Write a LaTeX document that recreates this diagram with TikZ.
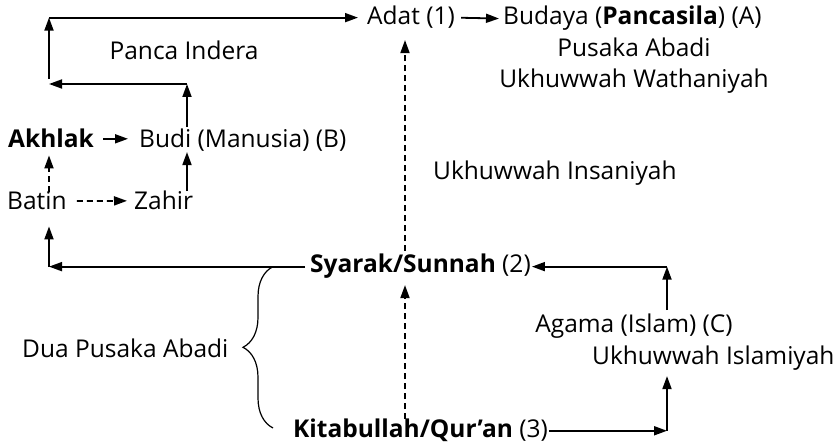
\documentclass[tikz,border=0pt]{standalone}
\usepackage{fontspec}
\setmainfont{Open Sans}
\usepackage{tikz}
\usetikzlibrary{calc,arrows.meta,decorations.pathreplacing}

\tikzset{
  txt/.style={inner sep=0pt, anchor=base west, font=\fontsize{24.5}{29}\selectfont},
  ctxt/.style={txt, anchor=base},
  arr/.style={line width=1.8pt, -{Triangle[length=13pt,width=9pt]}},
  dsh/.style={arr, dash pattern=on 6pt off 4pt},
}

\begin{document}
\begin{tikzpicture}[x=1pt,y=-1pt]
\useasboundingbox (0,0) rectangle (838,443);
% texts
\node [txt] (adat) at (367,25) {Adat (1)};
\node [txt] (budaya) at (503,25) {Budaya (\textbf{Pancasila}) (A)};
\node [ctxt] (pusaka) at (634,57) {Pusaka Abadi};
\node [ctxt] (wathan) at (634,88) {Ukhuwwah Wathaniyah};
\node [ctxt] (panca) at (184,60) {Panca Indera};
\node [txt] (akhlak) at (8,148) {\textbf{Akhlak}};
\node [txt] (budi) at (139,148) {Budi (Manusia) (B)};
\node [txt] (insan) at (433,180) {Ukhuwwah Insaniyah};
\node [txt] (batin) at (7,210) {Batin};
\node [txt] (zahir) at (134,210) {Zahir};
\node [txt] (syarak) at (310,273) {\textbf{Syarak/Sunnah} (2)};
\node [ctxt] (agama) at (634,333) {Agama (Islam) (C)};
\node [txt] (islam) at (592,365) {Ukhuwwah Islamiyah};
\node [txt] (dua) at (22,358) {Dua Pusaka Abadi};
\node [txt] (kitab) at (293,438) {\textbf{Kitabullah/Qur’an} (3)};
% corners
\coordinate (ml) at (49,84);
\coordinate (mr) at (187,84);
\coordinate (tl) at (ml |- adat.west);
\coordinate (bl) at (ml |- syarak.west);
\coordinate (rt) at (667,0 |- syarak.east);
\coordinate (rb) at (rt |- kitab.east);
\coordinate (dx) at (405,0);
\coordinate (br) at (273,428);
% connectors
\draw [arr] ($(ml)+(0,-5)$) -- (tl);
\draw [arr, shorten >=9pt] (tl) -- (tl -| adat.west);
\draw [arr, shorten <=6pt, shorten >=4pt] (adat.east) -- (budaya.west);
\draw [arr] (mr) -- (ml);
\draw [arr, shorten <=2pt] (budi.north -| mr) -- (mr);
\draw [arr, shorten <=9pt, shorten >=11pt] (akhlak.east) -- (akhlak.east -| budi.west);
\draw [arr] (zahir.north -| mr) -- (budi.south -| mr);
\draw [dsh, shorten <=10pt, shorten >=7pt] (batin.east) -- (zahir.west);
\draw [dsh, shorten >=7pt] (batin.north -| ml) -- (akhlak.south -| ml);
\draw [arr, shorten <=5pt] (syarak.west) -- (bl);
\draw [arr, shorten >=16pt] (bl) -- (batin.south -| bl);
\draw [arr, shorten <=4pt] (agama.north -| rt) -- (rt);
\draw [arr, shorten >=1pt] (rt) -- (syarak.east);
\draw [arr, shorten <=1pt] (kitab.east) -- (rb);
\draw [arr, shorten >=5pt] (rb) -- (islam.south -| rb);
\draw [dsh, shorten >=6pt] (kitab.north -| dx) -- (syarak.south -| dx);
\draw [dsh, shorten <=3pt, shorten >=11pt] (syarak.north -| dx) -- (adat.south -| dx);
% brace
\draw [line width=1.2pt, decorate, decoration={brace, amplitude=30pt}] (br) -- (br |- bl);
\end{tikzpicture}
\end{document}
